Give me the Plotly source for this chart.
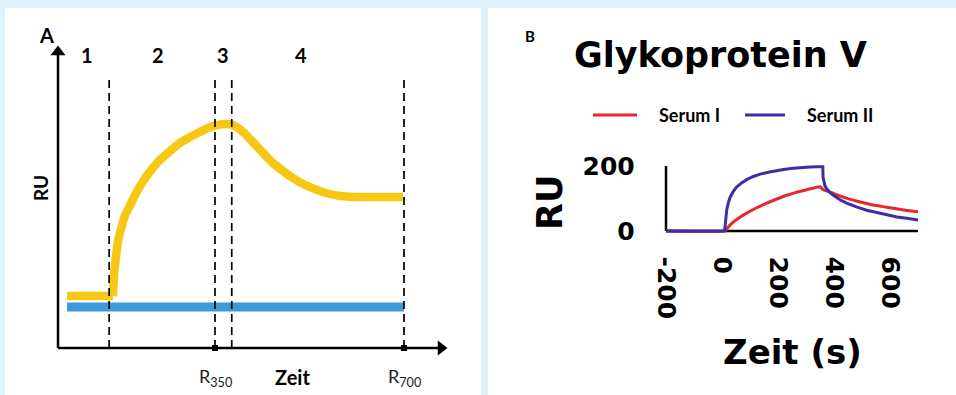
import plotly.graph_objects as go

W, H = 956, 395

# ---------------- Panel A: schematic sensorgram ----------------
phase_labels = ["1", "2", "3", "4"]
phase_label_t = [113, 244, 365, 509]
boundary_t = [154, 350, 381, 700]          # dashed phase boundaries
report_t = [350, 700]                       # report points
report_labels = ["R<sub>350</sub>", "R<sub>700</sub>"]

# baseline before injection
baseline_t = [76, 161]
baseline_ru = [52, 52]
# association / dissociation of the sample
sample_t = [161, 163, 167, 170, 176, 183, 193, 204, 217, 232, 248, 267, 285,
            304, 322, 341, 359, 374, 383, 393, 406, 420, 439, 457, 476, 494, 517,
            539, 559, 582, 609, 637, 698]
sample_ru = [52, 73, 93, 106, 119, 132, 143, 155, 167, 178, 188, 197, 205,
             211, 216, 221, 223.5, 224, 223, 220, 214, 206, 195, 185, 177, 170, 163,
             158, 154.5, 152, 151, 151, 151]
reference_t = [76, 700]
reference_ru = [41, 41]

# ---------------- Panel B: Glykoprotein V ----------------
serum1_t = [-200, 11, 20, 40, 60, 88, 120, 160, 200, 231, 265, 302, 330, 350,
            362, 380, 398, 430, 469, 505, 540, 575, 612, 655, 700]
serum1_ru = [0, 0, 10, 27, 40, 55, 70, 86, 100, 110, 119, 127, 133, 136,
             127, 121, 116, 105, 95, 87, 80, 75, 70, 64, 59]
serum2_t = [-200, 9, 11, 13, 17, 22, 29, 40, 52, 70, 88, 110, 136, 165, 195, 225,
            255, 285, 314, 340, 360, 361, 364, 368, 374, 385, 398, 420, 445, 480,
            517, 550, 588, 625, 660, 700]
serum2_ru = [0, 0, 15, 40, 65, 85, 104, 121, 135, 148, 158, 167, 175, 181, 186, 190,
             193, 196, 197, 198, 198, 165, 148, 138, 130, 119, 110, 97, 86, 74,
             64, 57, 49, 43, 39, 34]
x_ticks_b = [-200, 0, 200, 400, 600]
x_ticktext_b = ["-200", "0", "200", "400", "600"]
y_ticks_b = [0, 200]

RED = "#e8262b"
NAVY = "#3b2ea6"
YELLOW = "#f6c814"
SKY = "#3d9bd9"
BG = "#dff2fb"


def fx(px):
    return px / W


def fy(py):
    return 1 - py / H


# axis A geometry: px = 215 + (t - 350) * 0.54 ; py = 348 - RU
A_PX = 0.54
a_xrange = [350 + (5 - 215) / A_PX, 350 + (481 - 215) / A_PX]
a_yrange = [348 - 395, 348 - 8]
a_t0 = 350 + (58 - 215) / A_PX
a_tend = 350 + (448 - 215) / A_PX
a_top = 303

fig = go.Figure()

# Panel A traces
fig.add_trace(go.Scatter(x=baseline_t, y=baseline_ru, mode="lines",
                         line=dict(color=YELLOW, width=8.5),
                         xaxis="x", yaxis="y", hoverinfo="skip"))
fig.add_trace(go.Scatter(x=sample_t, y=sample_ru, mode="lines",
                         line=dict(color=YELLOW, width=8.5, shape="spline", smoothing=0.6),
                         xaxis="x", yaxis="y", hoverinfo="skip"))
fig.add_trace(go.Scatter(x=reference_t, y=reference_ru, mode="lines",
                         line=dict(color=SKY, width=9),
                         xaxis="x", yaxis="y", hoverinfo="skip"))
fig.add_trace(go.Scatter(x=report_t, y=[0] * len(report_t), mode="markers",
                         marker=dict(symbol="square", size=6, color="black"),
                         xaxis="x", yaxis="y", hoverinfo="skip"))
# arrow heads of the schematic axes
fig.add_trace(go.Scatter(x=[a_t0], y=[a_top - 7], mode="markers",
                         marker=dict(symbol="triangle-up", size=13, color="black"),
                         xaxis="x", yaxis="y", hoverinfo="skip"))
fig.add_trace(go.Scatter(x=[a_tend - 7 / A_PX], y=[0], mode="markers",
                         marker=dict(symbol="triangle-right", size=13, color="black"),
                         xaxis="x", yaxis="y", hoverinfo="skip"))

# Panel B traces
fig.add_trace(go.Scatter(x=serum1_t, y=serum1_ru, mode="lines",
                         line=dict(color=RED, width=3, shape="spline", smoothing=0.4),
                         xaxis="x2", yaxis="y2", hoverinfo="skip"))
fig.add_trace(go.Scatter(x=serum2_t, y=serum2_ru, mode="lines",
                         line=dict(color=NAVY, width=3),
                         xaxis="x2", yaxis="y2", hoverinfo="skip"))

shapes = [
    # white panels
    dict(type="rect", xref="paper", yref="paper", x0=fx(5), x1=fx(481), y0=0, y1=fy(8),
         fillcolor="white", line=dict(width=0), layer="below"),
    dict(type="rect", xref="paper", yref="paper", x0=fx(488), x1=1, y0=0, y1=fy(8),
         fillcolor="white", line=dict(width=0), layer="below"),
    # schematic axes
    dict(type="line", xref="x", yref="y", x0=a_t0, x1=a_t0, y0=0, y1=a_top - 8,
         line=dict(color="black", width=2.5)),
    dict(type="line", xref="x", yref="y", x0=a_t0, x1=a_tend - 8 / A_PX, y0=0, y1=0,
         line=dict(color="black", width=2.5)),
]
for t in boundary_t:
    shapes.append(dict(type="line", xref="x", yref="y", x0=t, x1=t, y0=0, y1=270,
                       line=dict(color="black", width=1.7, dash="8px,5px"), layer="above"))
# Panel B axis lines
shapes.append(dict(type="line", xref="x2", yref="y2", x0=-200, x1=700, y0=0, y1=0,
                   line=dict(color="black", width=2.5), layer="below"))
shapes.append(dict(type="line", xref="x2", yref="y2", x0=-200, x1=-200, y0=0, y1=200,
                   line=dict(color="black", width=2.5), layer="below"))
# Panel B legend samples
shapes.append(dict(type="line", xref="paper", yref="paper", x0=fx(593), x1=fx(637),
                   y0=fy(115), y1=fy(115), line=dict(color=RED, width=3)))
shapes.append(dict(type="line", xref="paper", yref="paper", x0=fx(745), x1=fx(785),
                   y0=fy(115), y1=fy(115), line=dict(color=NAVY, width=3)))

FA = "Lato"
FB = "DejaVu Sans"
ann = []


def label(x, y, text, size, family=FA, xref="paper", yref="paper", angle=0,
          xanchor="center", color="black"):
    ann.append(dict(x=x, y=y, xref=xref, yref=yref, text=text, showarrow=False,
                    textangle=angle, xanchor=xanchor, yanchor="middle",
                    font=dict(family=family, size=size, color=color)))


for lab, t in zip(phase_labels, phase_label_t):
    label(t, 293, f"<b>{lab}</b>", 20, xref="x", yref="y")
for lab, t in zip(report_labels, report_t):
    label(t, -29, lab, 18, xref="x", yref="y", color="#222")
label(494, -29, "<b>Zeit</b>", 20, xref="x", yref="y")
label(fx(46), fy(35), "<b>A</b>", 20)
label(fx(40), fy(188), "<b>RU</b>", 19, angle=-90)

# Panel B texts
label(fx(530), fy(36), "<b>B</b>", 15)
label(fx(720), fy(55), "<b>Glykoprotein V</b>", 35, family=FB)
label(fx(657), fy(115), "<b>Serum I</b>", 18, xanchor="left")
label(fx(805), fy(115), "<b>Serum II</b>", 18, xanchor="left")
label(fx(550), fy(203), "<b>RU</b>", 35, family=FB, angle=-90)
label(fx(792), fy(352), "<b>Zeit (s)</b>", 34, family=FB)

# axis B geometry: px = 722 + t * 0.28 ; py = 231 - RU * 0.325
b_xrange = [-208, 708]
b_yrange = [-8, 208]
b_xdom = [fx(722 + b_xrange[0] * 0.28), fx(722 + b_xrange[1] * 0.28)]
b_ydom = [fy(231 - b_yrange[0] * 0.325), fy(231 - b_yrange[1] * 0.325)]

hidden = dict(showgrid=False, zeroline=False, showline=False, showticklabels=False,
              ticks="", automargin=False)

fig.update_layout(
    width=W, height=H,
    margin=dict(l=0, r=0, t=0, b=0, pad=0, autoexpand=False),
    paper_bgcolor=BG, plot_bgcolor="rgba(0,0,0,0)",
    showlegend=False,
    xaxis=dict(domain=[fx(5), fx(481)], range=a_xrange, **hidden),
    yaxis=dict(domain=[0, fy(8)], range=a_yrange, **hidden),
    xaxis2=dict(domain=b_xdom, range=b_xrange, anchor="y2", showgrid=False, zeroline=False,
                showline=False, ticks="", tickvals=x_ticks_b, ticktext=x_ticktext_b,
                tickangle=90, ticklabelstandoff=22, automargin=False,
                tickfont=dict(family=FB, size=25, color="black", weight="bold")),
    yaxis2=dict(domain=b_ydom, range=b_yrange, anchor="x2", showgrid=False, zeroline=False,
                showline=False, ticks="", tickvals=y_ticks_b, ticklabelstandoff=28,
                automargin=False,
                tickfont=dict(family=FB, size=25, color="black", weight="bold")),
    shapes=shapes, annotations=ann,
)

fig.write_html("out.html", post_script="document.body.style.margin='0';")
